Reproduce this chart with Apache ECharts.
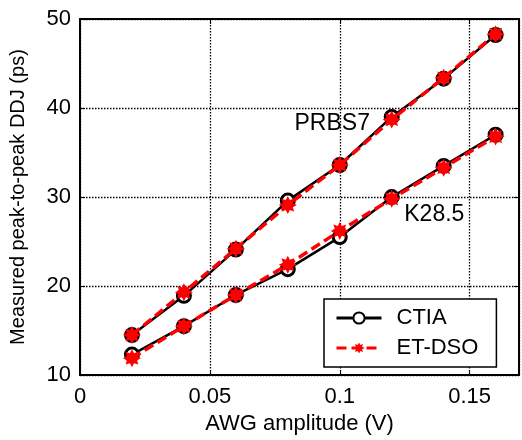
<!DOCTYPE html>
<html>
<head>
<meta charset="utf-8">
<script src="https://cdn.jsdelivr.net/npm/echarts@6/dist/echarts.min.js"></script>
<style>html,body{margin:0;padding:0;background:#fff;}#c{width:522px;height:440px;}</style>
</head>
<body>
<div id="c"></div>
<script>
// Data
var amplitude = [0.02, 0.04, 0.06, 0.08, 0.1, 0.12, 0.14, 0.16];
var prbs7Ctia  = [14.5, 18.9, 24.1, 29.6, 33.6, 39.0, 43.3, 48.2];
var prbs7EtDso = [14.5, 19.3, 24.2, 29.1, 33.6, 38.7, 43.4, 48.3];
var k285Ctia   = [12.3, 15.5, 19.0, 21.9, 25.5, 30.0, 33.5, 37.0];
var k285EtDso  = [11.9, 15.5, 19.0, 22.4, 26.2, 29.8, 33.3, 36.8];
var legendNames = ['CTIA', 'ET-DSO'];
var annotations = [
  {text: 'PRBS7', x: 0.0971, y: 38.2},
  {text: 'K28.5', x: 0.1364, y: 28.0}
];

function pairs(xs, ys) { return xs.map(function (x, i) { return [x, ys[i]]; }); }

var FONT = 'Liberation Sans';
var STAR = 'path://M100 50 L77.72 61.48 L85.36 85.36 L61.48 77.72 L50 100 L38.52 77.72 L14.64 85.36 L22.28 61.48 L0 50 L22.28 38.52 L14.64 14.64 L38.52 22.28 L50 0 L61.48 22.28 L85.36 14.64 L77.72 38.52 Z';

function xfmt(v) {
  var k = v / 0.05;
  if (Math.abs(k - Math.round(k)) > 1e-6) return '';
  return String(+(Math.round(k) * 0.05).toFixed(2));
}

var blackLine = {
  type: 'line', symbol: 'circle', symbolSize: 13,
  lineStyle: {color: '#000', width: 2.5},
  itemStyle: {color: '#fff', borderColor: '#000', borderWidth: 3},
  z: 2
};
var redLine = {
  type: 'line', symbol: STAR, symbolSize: 18,
  lineStyle: {color: '#ff0000', width: 3.5, type: [10, 5]},
  itemStyle: {color: '#ff0000', borderWidth: 0},
  z: 3
};

function mk(base, name, ys, extra) {
  var s = Object.assign({}, base, {name: name, data: pairs(amplitude, ys), animation: false});
  if (extra) Object.assign(s, extra);
  return s;
}

var annMarks = {
  markPoint: {
    symbol: 'circle', symbolSize: 0, silent: true, animation: false,
    label: {show: true, position: 'inside', color: '#000', fontSize: 23, fontFamily: FONT,
      formatter: function (p) { return p.name; }},
    data: annotations.map(function (a) { return {name: a.text, coord: [a.x, a.y]}; })
  }
};

var chart = echarts.init(document.getElementById('c'));
chart.setOption({
  animation: false,
  backgroundColor: '#fff',
  grid: {left: 79, top: 19, right: 2, bottom: 61, containLabel: false},
  xAxis: [{
    type: 'value', min: 0, max: 0.169, interval: 0.05,
    name: 'AWG amplitude (V)', nameLocation: 'middle', nameGap: 31,
    nameTextStyle: {color: '#000', fontSize: 22, fontFamily: FONT},
    axisLine: {show: true, onZero: false, lineStyle: {color: '#000', width: 2}},
    axisTick: {show: true, inside: true, length: 5, lineStyle: {color: '#000', width: 1}},
    axisLabel: {color: '#000', fontSize: 22, fontFamily: FONT, margin: 11, formatter: xfmt},
    splitLine: {show: true, lineStyle: {color: '#000', width: 1.3, type: [1.5, 1.5]}}
  }, {
    type: 'value', position: 'top', min: 0, max: 0.169, interval: 0.05,
    axisLine: {show: true, onZero: false, lineStyle: {color: '#000', width: 2}},
    axisTick: {show: true, inside: true, length: 5, lineStyle: {color: '#000', width: 1}},
    axisLabel: {show: false}, splitLine: {show: false}
  }],
  yAxis: [{
    type: 'value', min: 10, max: 50, interval: 10,
    name: 'Measured peak-to-peak DDJ (ps)', nameLocation: 'middle', nameGap: 52,
    nameTextStyle: {color: '#000', fontSize: 20, fontFamily: FONT},
    axisLine: {show: true, onZero: false, lineStyle: {color: '#000', width: 2}},
    axisTick: {show: true, inside: true, length: 5, lineStyle: {color: '#000', width: 1}},
    axisLabel: {color: '#000', fontSize: 22, fontFamily: FONT, margin: 9},
    splitLine: {show: true, lineStyle: {color: '#000', width: 1.3, type: [1.5, 1.5]}}
  }, {
    type: 'value', position: 'right', min: 10, max: 50, interval: 10,
    axisLine: {show: true, onZero: false, lineStyle: {color: '#000', width: 2}},
    axisTick: {show: true, inside: true, length: 5, lineStyle: {color: '#000', width: 1}},
    axisLabel: {show: false}, splitLine: {show: false}
  }],
  legend: {
    data: legendNames, orient: 'vertical', left: 324, top: 299,
    itemWidth: 45, itemHeight: 14, itemGap: 8,
    padding: [8, 18, 8, 11],
    backgroundColor: '#fff', borderColor: '#000', borderWidth: 1.5,
    lineStyle: {width: 3},
    textStyle: {color: '#000', fontSize: 22, fontFamily: FONT, lineHeight: 22, padding: [0, 0, 0, 10]}
  },
  series: [
    mk(blackLine, legendNames[0], prbs7Ctia, annMarks),
    mk(blackLine, legendNames[0], k285Ctia),
    mk(redLine, legendNames[1], prbs7EtDso),
    mk(redLine, legendNames[1], k285EtDso)
  ]
});
</script>
</body>
</html>
